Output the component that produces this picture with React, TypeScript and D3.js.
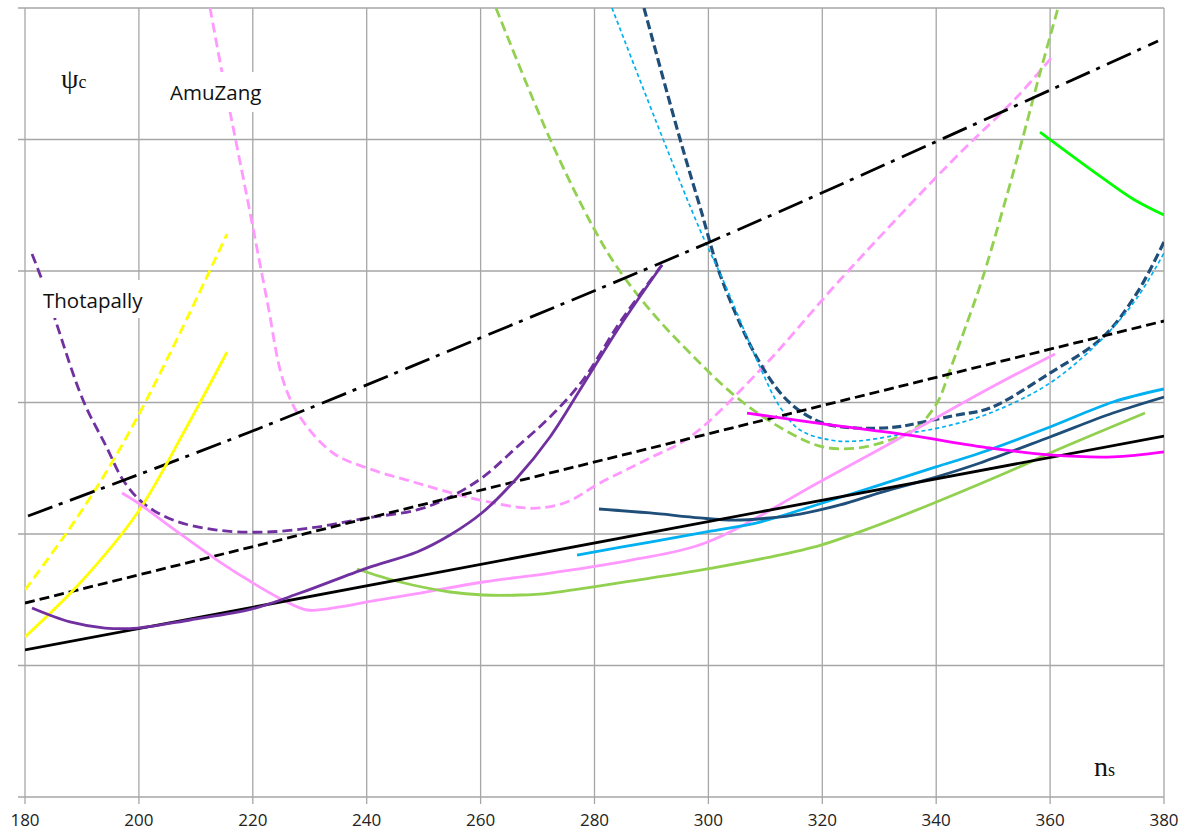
import React from "react";
import * as d3 from "d3";

type P = [number, number];

const xTicks = [180, 200, 220, 240, 260, 280, 300, 320, 340, 360, 380];
const yGrid = [0, 1, 2, 3, 4, 5, 6];

const blackSolid: P[] = [[180, 1.118], [380, 2.745]];
const blackDashed: P[] = [[180, 1.475], [380, 3.62]];
const blackDashDot: P[] = [[180.53, 2.137], [219.51, 2.776], [259.89, 3.49], [300.28, 4.221], [339.44, 4.973], [378.95, 5.749]];
const yellowSolid: P[] = [[180, 1.217], [189.66, 1.627], [199.84, 2.167], [208.1, 2.791], [215.47, 3.384]];
const yellowDashed: P[] = [[180, 1.574], [187.9, 2.046], [194.05, 2.456], [199.84, 2.897], [207.22, 3.529], [215.47, 4.281]];
const thotapallyDashed: P[] = [[181.23, 4.129], [182.99, 3.932], [185.27, 3.635], [190.18, 3.019], [194.4, 2.654], [197.21, 2.411], [200.72, 2.236], [205.99, 2.106], [213.71, 2.03], [222.49, 2.015], [231.27, 2.053], [240.05, 2.122], [248.83, 2.183], [254.63, 2.281], [260.42, 2.433], [266.39, 2.662], [272.19, 2.89], [277.98, 3.171], [284.48, 3.612], [291.85, 4.046]];
const purpleSolid: P[] = [[181.23, 1.437], [187.9, 1.331], [194.05, 1.285], [199.84, 1.285], [208.97, 1.346], [219.86, 1.43], [228.29, 1.551], [240.05, 1.741], [248.83, 1.863], [254.63, 1.992], [260.42, 2.167], [266.39, 2.426], [272.19, 2.738], [277.98, 3.133], [284.48, 3.582], [291.85, 4.046]];
const amuZangDashed: P[] = [[212.49, 6.0], [214.59, 5.513], [216.0, 5.209], [218.98, 4.563], [222.49, 3.779], [225.3, 3.171], [228.29, 2.89], [234.08, 2.616], [240.05, 2.502], [248.83, 2.388], [257.61, 2.281], [266.39, 2.205], [270.43, 2.198], [275.17, 2.243], [280.97, 2.388], [289.75, 2.578], [296.77, 2.738], [309.59, 3.27], [323.11, 3.932], [342.42, 4.821], [354.19, 5.323], [360.33, 5.627]];
const pinkSolid: P[] = [[197.03, 2.312], [199.84, 2.236], [206.34, 2.03], [213.71, 1.802], [220.04, 1.627], [225.3, 1.498], [229.52, 1.422], [235.31, 1.445], [240.05, 1.483], [249.36, 1.551], [260.42, 1.635], [272.19, 1.703], [286.41, 1.802], [299.41, 1.932], [320.14, 2.411], [334.89, 2.76], [349.44, 3.11], [360.86, 3.369]];
const greenSolid: P[] = [[238.3, 1.734], [245.85, 1.635], [254.63, 1.559], [260.42, 1.536], [266.92, 1.536], [272.19, 1.551], [289.75, 1.665], [300.63, 1.741], [310.82, 1.825], [319.77, 1.916], [328.9, 2.053], [339.61, 2.236], [354.19, 2.502], [359.98, 2.616], [376.67, 2.92]];
const cyanSolid: P[] = [[276.93, 1.84], [289.75, 1.939], [300.63, 2.023], [309.06, 2.091], [318.37, 2.213], [328.9, 2.357], [339.96, 2.51], [347.69, 2.616], [359.98, 2.814], [371.04, 3.004], [380, 3.103]];
const navySolid: P[] = [[280.79, 2.19], [289.75, 2.16], [298.53, 2.122], [304.67, 2.106], [310.82, 2.122], [316.08, 2.152], [323.11, 2.221], [330.48, 2.319], [339.96, 2.433], [347.69, 2.54], [359.98, 2.738], [371.04, 2.92], [380, 3.042]];
const magentaSolid: P[] = [[306.78, 2.92], [320.12, 2.837], [334.87, 2.753], [349.44, 2.654], [359.98, 2.601], [371.04, 2.586], [380, 2.624]];
const limeSolid: P[] = [[358.23, 5.057], [368.76, 4.722], [374.56, 4.548], [380, 4.426]];
const greenDashed: P[] = [[262.7, 6.0], [272.19, 5.004], [279.74, 4.335], [283.95, 4.03], [289.75, 3.703], [296.77, 3.376], [305.55, 3.019], [314.33, 2.768], [320.12, 2.662], [326.09, 2.654], [331.89, 2.715], [336.63, 2.814], [340.14, 2.996], [342.42, 3.247], [345.41, 3.605], [348.04, 3.932], [352.08, 4.525], [355.24, 5.019], [358.23, 5.506], [361.39, 6.0]];
const navyDashed: P[] = [[288.69, 6.0], [295.01, 5.004], [298.53, 4.487], [302.39, 3.932], [309.06, 3.3], [314.33, 2.996], [320.12, 2.844], [326.09, 2.806], [333.12, 2.814], [337.68, 2.852], [343.65, 2.905], [349.45, 2.958], [359.98, 3.224], [369.29, 3.498], [375.26, 3.833], [380, 4.221]];
const cyanDashed: P[] = [[283.07, 6.0], [292.03, 5.004], [298.53, 4.312], [302.56, 3.932], [309.06, 3.27], [312.57, 2.966], [316.08, 2.791], [321.35, 2.715], [326.09, 2.707], [334.17, 2.76], [341.19, 2.814], [349.45, 2.92], [359.98, 3.148], [369.29, 3.49], [375.26, 3.795], [380, 4.137]];

const W = 1184;
const H = 830;
const x = d3.scaleLinear().domain([180, 380]).range([25, 1164]);
const y = d3.scaleLinear().domain([0, 6]).range([797, 8]);

const smooth = d3.line<P>().x((d) => x(d[0])).y((d) => y(d[1])).curve(d3.curveCatmullRom.alpha(0.5));
const straight = d3.line<P>().x((d) => x(d[0])).y((d) => y(d[1]));

type S = { data: P[]; color: string; width: number; dash?: string; linear?: boolean };

const series: S[] = [
  { data: amuZangDashed, color: "#ff99ff", width: 2.8, dash: "10,5" },
  { data: greenDashed, color: "#92d050", width: 2.8, dash: "10,5" },
  { data: navyDashed, color: "#1f4e79", width: 3.2, dash: "9,4" },
  { data: cyanDashed, color: "#00b0f0", width: 1.7, dash: "4,3" },
  { data: yellowDashed, color: "#ffff00", width: 2.8, dash: "10,5" },
  { data: thotapallyDashed, color: "#7030a0", width: 2.8, dash: "10,5" },
  { data: blackDashed, color: "#000000", width: 2.8, dash: "10,5", linear: true },
  { data: blackDashDot, color: "#000000", width: 2.8, dash: "26,7,4,8" },
  { data: yellowSolid, color: "#ffff00", width: 2.8 },
  { data: pinkSolid, color: "#ff99ff", width: 2.8 },
  { data: greenSolid, color: "#92d050", width: 2.8 },
  { data: cyanSolid, color: "#00b0f0", width: 2.8 },
  { data: navySolid, color: "#1f4e79", width: 2.8 },
  { data: blackSolid, color: "#000000", width: 2.8, linear: true },
  { data: purpleSolid, color: "#7030a0", width: 2.8 },
  { data: magentaSolid, color: "#ff00ff", width: 2.8 },
  { data: limeSolid, color: "#00ff00", width: 2.8 },
];

const gridColor = "#a6a6a6";
const labelFont = "'Open Sans', sans-serif";

export default function App() {
  const [x0, x1] = x.range();
  const [y0, y1] = y.range();
  return (
    <svg width={W} height={H} style={{ position: "absolute", left: 0, top: 0, background: "#fff" }}>
      <defs>
        <clipPath id="plot">
          <rect x={x0} y={y1} width={x1 - x0} height={y0 - y1} />
        </clipPath>
      </defs>
      <rect x={0} y={0} width={W} height={H} fill="#fff" />
      {yGrid.map((v) => (
        <line key={"h" + v} x1={x0 - 7} x2={x1} y1={y(v)} y2={y(v)} stroke={gridColor} strokeWidth={1.3} />
      ))}
      {xTicks.map((v) => (
        <line key={"v" + v} x1={x(v)} x2={x(v)} y1={y1} y2={y0 + 7} stroke={gridColor} strokeWidth={1.3} />
      ))}
      {xTicks.map((v) => (
        <text key={"t" + v} x={x(v)} y={826} textAnchor="middle" fontFamily={labelFont} fontSize={17} fill="#222">
          {v}
        </text>
      ))}
      <g clipPath="url(#plot)" fill="none" strokeLinejoin="round">
        {series.map((s, i) => (
          <path
            key={i}
            d={(s.linear ? straight : smooth)(s.data) || ""}
            stroke={s.color}
            strokeWidth={s.width}
            strokeDasharray={s.dash}
          />
        ))}
      </g>
      <rect x={165} y={72} width={103} height={40} fill="#fff" />
      <text x={170} y={100} fontFamily={labelFont} fontSize={20.5} fill="#111">AmuZang</text>
      <rect x={38} y={280} width={114} height={38} fill="#fff" />
      <text x={43} y={308} fontFamily={labelFont} fontSize={20.5} fill="#111">Thotapally</text>
      <text x={61} y={88} fontFamily="'Liberation Serif', 'Times New Roman', serif" fontSize={28} fill="#111">
        ψ<tspan fontSize={18}>c</tspan>
      </text>
      <text x={1094} y={776} fontFamily="'Liberation Serif', 'Times New Roman', serif" fontSize={28} fill="#111">
        n<tspan fontSize={18}>s</tspan>
      </text>
    </svg>
  );
}
